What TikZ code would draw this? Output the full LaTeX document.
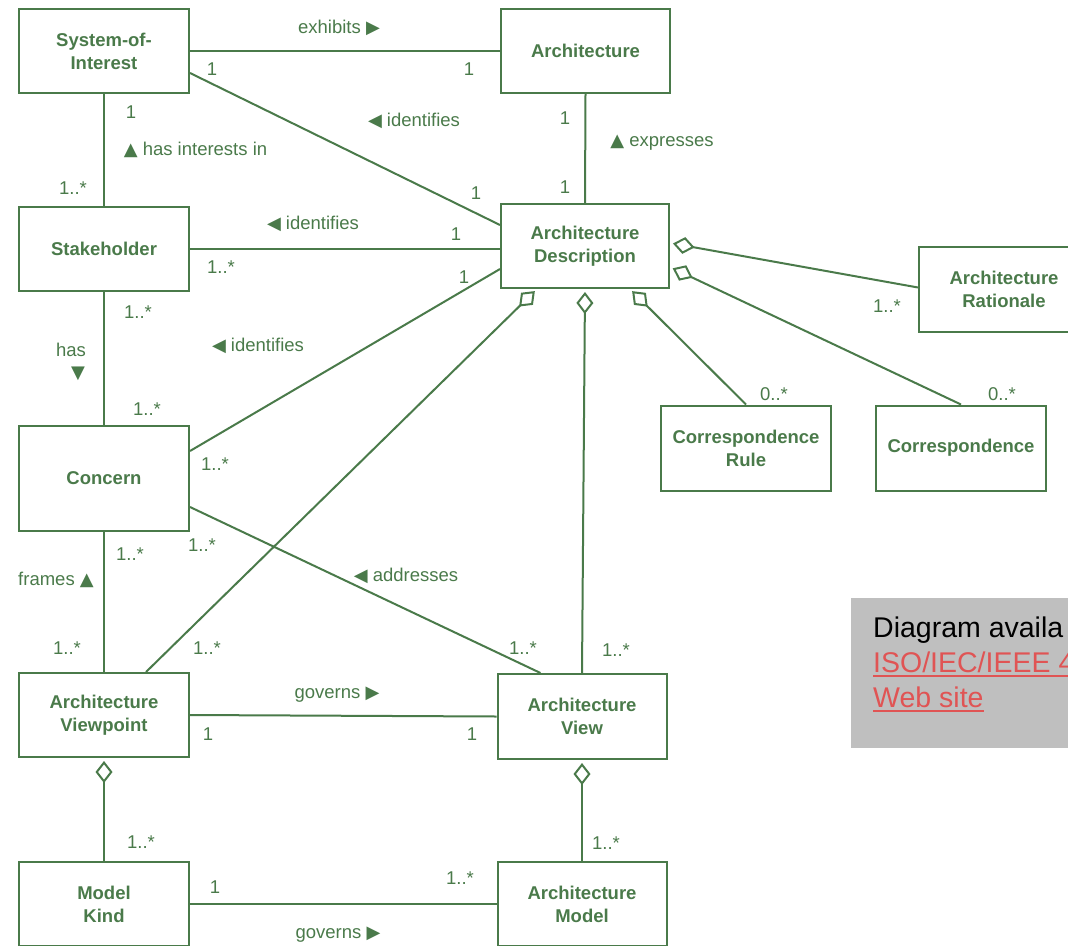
\documentclass[tikz,border=0pt]{standalone}
\usepackage{fontspec}
\setmainfont{Liberation Sans}
\newfontfamily\symf{DejaVu Sans}
\usetikzlibrary{arrows.meta,calc}
\definecolor{umlgreen}{RGB}{74,122,74}
\definecolor{boxgray}{RGB}{191,191,191}
\definecolor{linkred}{RGB}{224,84,84}
\newcommand\triR{{\symf\fontsize{18}{18}\selectfont ▶}}
\newcommand\triL{{\symf\fontsize{18}{18}\selectfont ◀}}
\newcommand\triU{{\symf\fontsize{18}{18}\selectfont ▲}}
\newcommand\triD{{\symf\fontsize{18}{18}\selectfont ▼}}
\begin{document}
\begin{tikzpicture}[x=1pt,y=-1pt,
  cls/.style={draw=umlgreen, line width=2pt, text=umlgreen,
    font=\bfseries\fontsize{18.5}{23}\selectfont, align=center,
    inner sep=0pt, minimum width=170pt, minimum height=84pt},
  lbl/.style={text=umlgreen, font=\fontsize{18.5}{22}\selectfont,
    inner sep=0pt, text height=13pt, text depth=0pt},
  assoc/.style={draw=umlgreen, line width=2pt},
  agg/.style={assoc, {Diamond[open,length=22pt,width=17pt]}-, shorten <=3pt},
  link/.style={text=linkred, anchor=base west, inner sep=0pt,
    font=\fontsize{28.5}{34}\selectfont},
  uline/.style={draw=linkred, line width=1.8pt}]
\useasboundingbox (0,0) rectangle (1068,945);
\clip (0,0) rectangle (1068,945);

% classes
\node[cls] (soi) at (104,51) {System-of-\\Interest};
\node[cls, minimum width=169pt] (arch) at (585.5,51) {Architecture};
\node[cls] (stake) at (104,249) {Stakeholder};
\node[cls, minimum width=168pt] (ad) at (585,246) {Architecture\\Description};
\node[cls, minimum height=85pt] (rat) at (1004,289) {Architecture\\Rationale};
\node[cls, minimum height=85pt] (crule) at (746,448) {Correspondence\\Rule};
\node[cls, minimum height=85pt] (corr) at (961,448) {Correspondence};
\node[cls, minimum height=105pt] (concern) at (104,478.5) {Concern};
\node[cls] (vp) at (104,715) {Architecture\\Viewpoint};
\node[cls, minimum width=169pt, minimum height=85pt] (view) at (582,716.5) {Architecture\\View};
\node[cls] (mk) at (104,904) {Model\\Kind};
\node[cls, minimum width=169pt] (am) at (582,904) {Architecture\\Model};

% associations
\draw[assoc] (soi.east) -- (arch.west);
\draw[assoc] ($(soi.south east)+(0,-21)$) -- ($(ad.north west)+(0,22)$);
\draw[assoc] (soi.south) -- (stake.north);
\draw[assoc] (stake.east) -- (stake.east -| ad.west);
\draw[assoc] (stake.south) -- (concern.north);
\draw[assoc] ($(concern.north east)+(0,26)$) -- ($(ad.south west)+(0,-20)$);
\draw[assoc] ($(concern.south east)+(0,-25)$) -- ($(view.north west)+(44,0)$);
\draw[assoc] (concern.south) -- (vp.north);
\draw[assoc] (arch.south) -- (ad.north);
\draw[assoc] (vp.east) -- (view.west);
\draw[assoc] (mk.east) -- (am.west);

% aggregations
\draw[agg] ($(ad.south west)+(37,0)$) -- ($(vp.north west)+(128,0)$);
\draw[agg] (ad.south) -- (view.north);
\draw[agg] ($(ad.south west)+(130,0)$) -- (crule.north);
\draw[agg] ($(ad.north east)+(0,64)$) -- (corr.north);
\draw[agg] ($(ad.north east)+(0,40)$) -- ($(rat.north west)+(0,42)$);
\draw[agg] (vp.south) -- (mk.north);
\draw[agg] (view.south) -- (am.north);

% labels
\node[lbl] (l1) at (339,27) {exhibits \triR};
\node[lbl] (m1) at (212,69) {1};
\node[lbl] (m2) at (469,69) {1};
\node[lbl] (m3) at (131,112) {1};
\node[lbl] (l2) at (195.5,149) {\triU\ has interests in};
\node[lbl] (m4) at (73,188) {1..*};
\node[lbl] (l3) at (414,120) {\triL\ identifies};
\node[lbl] (m5) at (476,193) {1};
\node[lbl] (l4) at (313,223) {\triL\ identifies};
\node[lbl] (m6) at (456,234) {1};
\node[lbl] (m7) at (221,267) {1..*};
\node[lbl] (m8) at (464,277) {1};
\node[lbl] (m9) at (138,312) {1..*};
\node[lbl] (l5) at (71,350) {has};
\node[lbl] (l5b) at (78,372) {\triD};
\node[lbl] (l6) at (258,345) {\triL\ identifies};
\node[lbl] (m10) at (147,409) {1..*};
\node[lbl] (m11) at (215,464) {1..*};
\node[lbl] (m12) at (202,545) {1..*};
\node[lbl] (m13) at (130,554) {1..*};
\node[lbl] (l7) at (56,579) {frames \triU};
\node[lbl] (l8) at (406,575) {\triL\ addresses};
\node[lbl] (m14) at (67,648) {1..*};
\node[lbl] (m15) at (207,648) {1..*};
\node[lbl] (m16) at (523,648) {1..*};
\node[lbl] (m17) at (616,650) {1..*};
\node[lbl] (l9) at (337,692) {governs \triR};
\node[lbl] (m18) at (208,734) {1};
\node[lbl] (m19) at (472,734) {1};
\node[lbl] (m20) at (141,842) {1..*};
\node[lbl] (m21) at (606,843) {1..*};
\node[lbl] (m22) at (215,887) {1};
\node[lbl] (m23) at (460,878) {1..*};
\node[lbl] (l10) at (338,932) {governs \triR};
\node[lbl] (m24) at (565,118) {1};
\node[lbl] (m25) at (565,187) {1};
\node[lbl] (l11) at (662,140) {\triU\ expresses};
\node[lbl] (m26) at (887,306) {1..*};
\node[lbl] (m27) at (774,394) {0..*};
\node[lbl] (m28) at (1002,394) {0..*};

% note box
\node[fill=boxgray, anchor=north west, minimum width=240pt, minimum height=150pt, inner sep=0pt] (note) at (851,598) {};
\node[anchor=base west, inner sep=0pt, font=\fontsize{28.5}{34}\selectfont] (t1) at (873,637) {Diagram availa};
\node[link] (t2) at (873,672) {ISO/IEC/IEEE 4};
\node[link] (t3) at (873,707) {Web site};
\draw[uline] ($(t2.base west)+(0,4)$) -- ($(t2.base east)+(0,4)$);
\draw[uline] ($(t3.base west)+(0,4)$) -- ($(t3.base east)+(0,4)$);
\end{tikzpicture}
\end{document}
